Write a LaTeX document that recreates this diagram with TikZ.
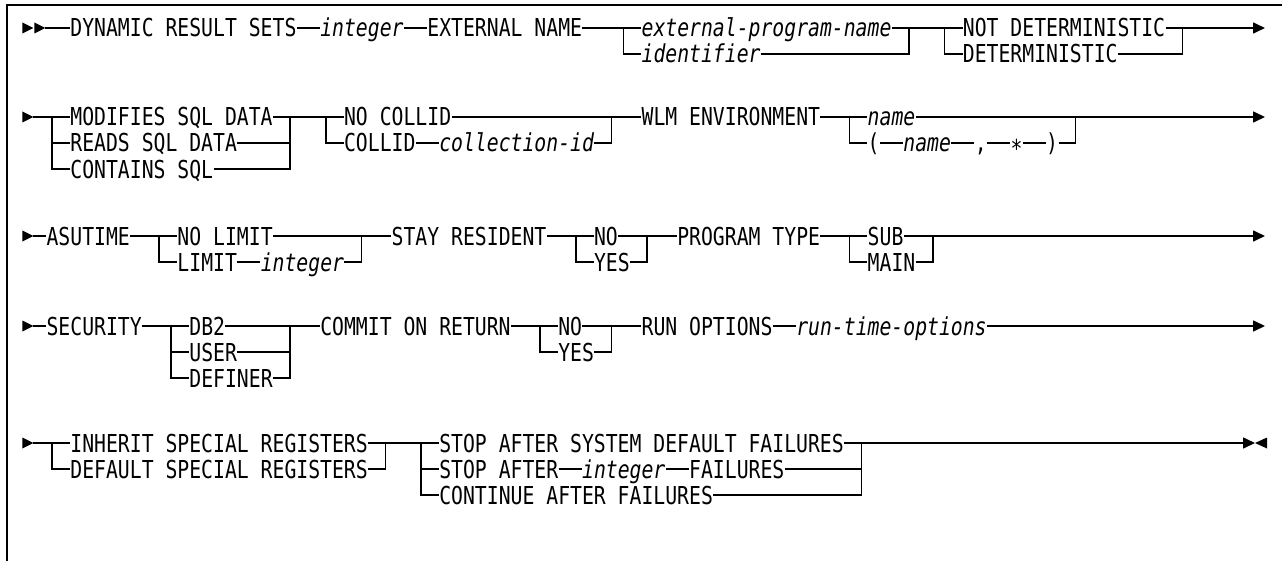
\documentclass[tikz,border=0pt]{standalone}
\usepackage{fontspec}
\usepackage{tikz}
\usetikzlibrary{arrows.meta}
\newfontfamily\rrfont[FakeStretch=0.80]{DejaVu Sans Mono}
% start marker of a rail line
\newcommand{\rrstart}[2]{%
  \fill (#1,#2-5.5) -- (#1,#2+5.5) -- (#1+0.92,#2) -- cycle;%
}

\begin{document}
\begin{tikzpicture}[x=5.95pt,y=-0.5pt,
  rail/.style={line width=0.8pt},
  rrkey/.style={font={\rrfont\fontsize{12.35pt}{14pt}\selectfont},inner sep=0pt,text height=9pt,text depth=0pt,anchor=west},
  rrvar/.style={rrkey,font={\rrfont\fontsize{12.35pt}{14pt}\selectfont\itshape}},
  rrend/.style={rail,-{Triangle[length=6pt,width=5.5pt]}}]
  \useasboundingbox (-5.882,0) rectangle (101.849,561);
  \draw[line width=0.75pt] (-5.294,561) -- (-5.294,5) -- (101.849,5);

  % row 1
  \rrstart{-4}{28}\rrstart{-3}{28}
  \coordinate (s1) at (-2.1,28);
  \node[rrkey] (dyn) at (0,28) {DYNAMIC RESULT SETS};
  \node[rrvar] (int1) at (21,28) {integer};
  \node[rrkey] (ext) at (30,28) {EXTERNAL NAME};
  \coordinate (j1a) at (46.5,28);
  \node[rrvar] (epn) at (48,28) {external-program-name};
  \node[rrvar] (idf) at (48,54) {identifier};
  \coordinate (j1b) at (70.5,28);
  \coordinate (j1c) at (73.5,28);
  \node[rrkey] (notdet) at (75,28) {NOT DETERMINISTIC};
  \node[rrkey] (det) at (75,54) {DETERMINISTIC};
  \coordinate (j1d) at (93.5,28);
  \coordinate (e1) at (100.42,28);
  \draw[rail] (s1) -- (dyn.west) (dyn.east) -- (int1.west) (int1.east) -- (ext.west)
    (ext.east) -- (j1a) -- (epn.west) (j1a) |- (idf.west)
    (epn.east) -- (j1b) (idf.east) -| (j1b) -- (j1c) -- (notdet.west) (j1c) |- (det.west)
    (notdet.east) -- (j1d) (det.east) -| (j1d);
  \draw[rrend] (j1d) -- (e1);

  % row 2
  \rrstart{-4}{117}
  \coordinate (s2) at (-3.1,117);
  \coordinate (j2a) at (-1.5,117);
  \node[rrkey] (mod) at (0,117) {MODIFIES SQL DATA};
  \node[rrkey] (rds) at (0,143) {READS SQL DATA};
  \node[rrkey] (cnt) at (0,169) {CONTAINS SQL};
  \coordinate (j2b) at (18.5,117);
  \coordinate (j2c) at (21.5,117);
  \node[rrkey] (nocol) at (23,117) {NO COLLID};
  \node[rrkey] (col) at (23,143) {COLLID};
  \node[rrvar] (colid) at (31,143) {collection-id};
  \coordinate (j2d) at (45.5,117);
  \node[rrkey] (wlm) at (48,117) {WLM ENVIRONMENT};
  \coordinate (j2e) at (65.5,117);
  \node[rrvar] (nm1) at (67,117) {name};
  \node[rrkey] (lp) at (67,143) {(};
  \node[rrvar] (nm2) at (70,143) {name};
  \node[rrkey] (cma) at (76,143) {,};
  \node[rrkey] (ast) at (79,143) {\raisebox{-2.8pt}{*}};
  \node[rrkey] (rp) at (82,143) {)};
  \coordinate (j2f) at (84.5,117);
  \coordinate (e2) at (100.42,117);
  \draw[rail] (s2) -- (j2a) -- (mod.west) (j2a) |- (rds.west) (j2a) |- (cnt.west)
    (mod.east) -- (j2b) (rds.east) -| (j2b) (cnt.east) -| (j2b)
    (j2b) -- (j2c) -- (nocol.west) (j2c) |- (col.west) (col.east) -- (colid.west)
    (nocol.east) -- (j2d) (colid.east) -| (j2d) -- (wlm.west)
    (wlm.east) -- (j2e) -- (nm1.west) (j2e) |- (lp.west)
    (lp.east) -- (nm2.west) (nm2.east) -- (cma.west) (cma.east) -- (ast.west) (ast.east) -- (rp.west)
    (nm1.east) -- (j2f) (rp.east) -| (j2f);
  \draw[rrend] (j2f) -- (e2);

  % row 3
  \rrstart{-4}{236}
  \coordinate (s3) at (-3.1,236);
  \node[rrkey] (asu) at (-2,236) {ASUTIME};
  \coordinate (j3a) at (7.5,236);
  \node[rrkey] (nolim) at (9,236) {NO LIMIT};
  \node[rrkey] (lim) at (9,262) {LIMIT};
  \node[rrvar] (int2) at (16,262) {integer};
  \coordinate (j3b) at (24.5,236);
  \node[rrkey] (stay) at (27,236) {STAY RESIDENT};
  \coordinate (j3c) at (42.5,236);
  \node[rrkey] (no1) at (44,236) {NO};
  \node[rrkey] (yes1) at (44,262) {YES};
  \coordinate (j3d) at (48.5,236);
  \node[rrkey] (prog) at (51,236) {PROGRAM TYPE};
  \coordinate (j3e) at (65.5,236);
  \node[rrkey] (sub) at (67,236) {SUB};
  \node[rrkey] (main) at (67,262) {MAIN};
  \coordinate (j3f) at (72.5,236);
  \coordinate (e3) at (100.42,236);
  \draw[rail] (s3) -- (asu.west) (asu.east) -- (j3a) -- (nolim.west) (j3a) |- (lim.west)
    (lim.east) -- (int2.west) (nolim.east) -- (j3b) (int2.east) -| (j3b) -- (stay.west)
    (stay.east) -- (j3c) -- (no1.west) (j3c) |- (yes1.west)
    (no1.east) -- (j3d) (yes1.east) -| (j3d) -- (prog.west)
    (prog.east) -- (j3e) -- (sub.west) (j3e) |- (main.west)
    (sub.east) -- (j3f) (main.east) -| (j3f);
  \draw[rrend] (j3f) -- (e3);

  % row 4
  \rrstart{-4}{326}
  \coordinate (s4) at (-3.1,326);
  \node[rrkey] (sec) at (-2,326) {SECURITY};
  \coordinate (j4a) at (8.5,326);
  \node[rrkey] (db2) at (10,326) {DB2};
  \node[rrkey] (usr) at (10,352) {USER};
  \node[rrkey] (dfn) at (10,378) {DEFINER};
  \coordinate (j4b) at (18.5,326);
  \node[rrkey] (cmt) at (21,326) {COMMIT ON RETURN};
  \coordinate (j4c) at (39.5,326);
  \node[rrkey] (no2) at (41,326) {NO};
  \node[rrkey] (yes2) at (41,352) {YES};
  \coordinate (j4d) at (45.5,326);
  \node[rrkey] (run) at (48,326) {RUN OPTIONS};
  \node[rrvar] (rto) at (61,326) {run-time-options};
  \coordinate (e4) at (100.42,326);
  \draw[rail] (s4) -- (sec.west) (sec.east) -- (j4a) -- (db2.west) (j4a) |- (usr.west) (j4a) |- (dfn.west)
    (db2.east) -- (j4b) (usr.east) -| (j4b) (dfn.east) -| (j4b) -- (cmt.west)
    (cmt.east) -- (j4c) -- (no2.west) (j4c) |- (yes2.west)
    (no2.east) -- (j4d) (yes2.east) -| (j4d) -- (run.west) (run.east) -- (rto.west);
  \draw[rrend] (rto.east) -- (e4);

  % row 5
  \rrstart{-4}{443}
  \coordinate (s5) at (-3.1,443);
  \coordinate (j5a) at (-1.5,443);
  \node[rrkey] (inh) at (0,443) {INHERIT SPECIAL REGISTERS};
  \node[rrkey] (dfl) at (0,469) {DEFAULT SPECIAL REGISTERS};
  \coordinate (j5b) at (26.5,443);
  \coordinate (j5c) at (29.5,443);
  \node[rrkey] (stp) at (31,443) {STOP AFTER SYSTEM DEFAULT FAILURES};
  \node[rrkey] (stpa) at (31,469) {STOP AFTER};
  \node[rrvar] (int3) at (43,469) {integer};
  \node[rrkey] (fail) at (52,469) {FAILURES};
  \node[rrkey] (cont) at (31,495) {CONTINUE AFTER FAILURES};
  \coordinate (j5d) at (66.5,443);
  \coordinate (e5) at (99.58,443);
  \draw[rail] (s5) -- (j5a) -- (inh.west) (j5a) |- (dfl.west)
    (inh.east) -- (j5b) (dfl.east) -| (j5b) -- (j5c) -- (stp.west) (j5c) |- (stpa.west) (j5c) |- (cont.west)
    (stpa.east) -- (int3.west) (int3.east) -- (fail.west)
    (stp.east) -- (j5d) (fail.east) -| (j5d) (cont.east) -| (j5d);
  \draw[rrend] (j5d) -- (e5);
  \fill (e5) -- (100.59,437.5) -- (100.59,448.5) -- cycle;
\end{tikzpicture}
\end{document}
